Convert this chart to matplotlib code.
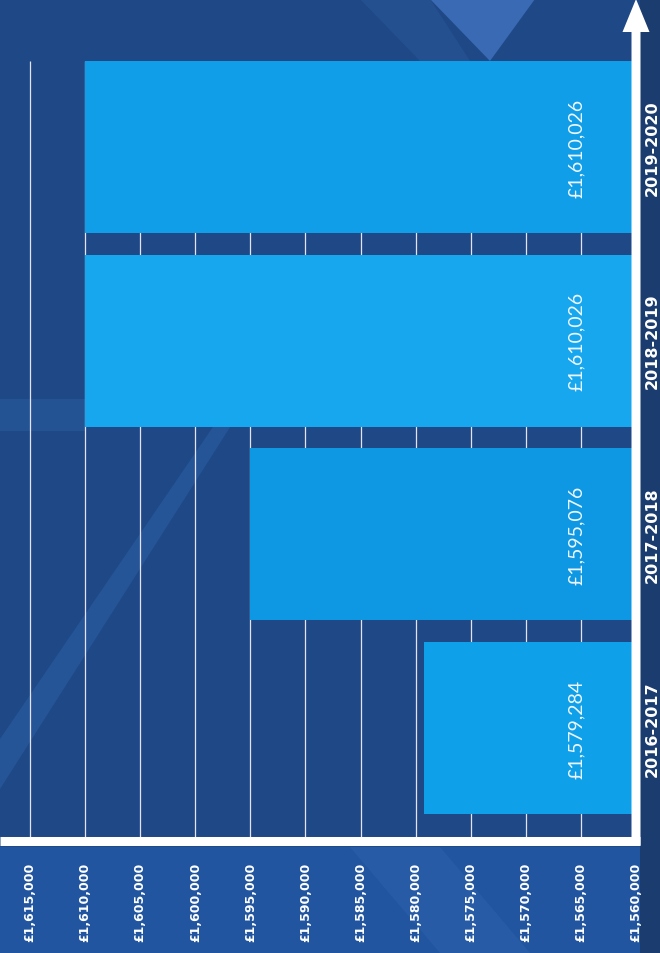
import matplotlib.pyplot as plt
from matplotlib.patches import Polygon, FancyArrow

# Funding per year (rotated bar chart)
years = ['2016-2017', '2017-2018', '2018-2019', '2019-2020']
values = [1579284, 1595076, 1610026, 1610026]
bar_colors = ['#0fa0ea', '#0e98e3', '#16a7ef', '#109ee8']
ticks = list(range(1560000, 1615001, 5000))
base = 1560000

W, H, DPI = 660, 954, 100
fig = plt.figure(figsize=(W / DPI, H / DPI), dpi=DPI, facecolor='#1f4887')

# background decoration (pixel coords, y from top)
def px_poly(pts, color, alpha=1.0):
    xy = [(x / W, 1 - y / H) for x, y in pts]
    fig.patches.append(Polygon(xy, closed=True, transform=fig.transFigure,
                               facecolor=color, edgecolor='none', alpha=alpha, zorder=-5))

px_poly([(0, 848), (660, 848), (660, 954), (0, 954)], '#2255a0')
px_poly([(640, 0), (660, 0), (660, 954), (640, 954)], '#1b3c6e')
px_poly([(430, 0), (535, 0), (490, 62)], '#3a6ab4')
px_poly([(360, 0), (430, 0), (470, 62), (420, 62)], '#25508f')
px_poly([(0, 790), (0, 740), (215, 425), (232, 425)], '#2a5ea2', 0.6)
px_poly([(0, 400), (85, 400), (85, 432), (0, 432)], '#2a5ea2', 0.5)
px_poly([(350, 848), (440, 848), (530, 954), (440, 954)], '#2b60aa', 0.6)

ax = fig.add_axes([0, (H - 842) / H, 636 / W, 842 / H])
ax.set_facecolor('none')

y = list(range(len(years)))
bar_h = 0.888
ax.barh(y, [v - base for v in values], left=base, height=bar_h,
        color=bar_colors, zorder=2)

ax.set_xlim(1617720, base)
ax.set_ylim(-0.583, 3.764)

# gridlines up to the top of the highest bar
ax.vlines(ticks[1:], -0.583, y[-1] + bar_h / 2, color='#e6e2f2', lw=0.9, zorder=1)

for i, v in enumerate(values):
    ax.annotate(f'£{v:,}', xy=(base, i), xytext=(-43, 0), textcoords='offset points',
                rotation=90, ha='center', va='center', color='#eef6ff',
                fontsize=14, family=['Lato', 'DejaVu Sans'], fontweight='normal', zorder=3)

for s in ax.spines.values():
    s.set_visible(False)

ax.set_xticks(ticks)
ax.set_xticklabels([f'£{t:,}' for t in ticks], rotation=90, fontsize=9,
                   fontweight='bold', color='white')
ax.tick_params(axis='x', length=0, pad=15)

ax.yaxis.tick_right()
ax.set_yticks(y)
ax.set_yticklabels(years, rotation=90, va='center', fontsize=11.5,
                   fontweight='bold', color='white')
ax.tick_params(axis='y', length=0, pad=6)

# horizontal axis line
ax.plot([0, 1.007], [0, 0], transform=ax.transAxes, color='white', lw=6.5,
        solid_capstyle='butt', clip_on=False, zorder=4)

# vertical axis with arrow head (drawn in inches)
fig.canvas.draw()
bx, by = ax.transData.transform((base, -0.583))
bx_in, by_in = bx / DPI, by / DPI
top_in = H / DPI
fig.patches.append(FancyArrow(bx_in, by_in - 0.045, 0, top_in - by_in + 0.045,
                              width=0.09, head_width=0.27, head_length=0.33,
                              length_includes_head=True, transform=fig.dpi_scale_trans,
                              facecolor='white', edgecolor='none', zorder=5))

fig.savefig('out.png', dpi=DPI, facecolor=fig.get_facecolor())
